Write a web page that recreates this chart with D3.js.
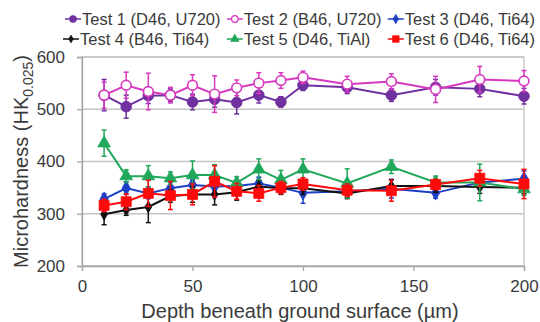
<!DOCTYPE html>
<html>
<head>
<meta charset="utf-8">
<script src="https://cdn.jsdelivr.net/npm/d3@7"></script>
<style>
  body { margin: 0; background: #fff; }
  svg text { font-family: Arial, "Liberation Sans", Helvetica, sans-serif; fill: #3a3a3a; }
</style>
</head>
<body>
<div id="chart"></div>
<script>
// depth beneath surface (µm)
const depths = [10, 20, 30, 40, 50, 60, 70, 80, 90, 100, 120, 140, 160, 180, 200];

// series names
const seriesNames = [
  'Test 1 (D46, U720)', 'Test 2 (B46, U720)', 'Test 3 (D46, Ti64)',
  'Test 4 (B46, Ti64)', 'Test 5 (D46, TiAl)', 'Test 6 (D46, Ti64)'
];

// mean hardness values
const test1 = [527, 505, 526, 527, 514, 519, 513, 527, 514, 546, 542, 527, 542, 539, 525];
const test2 = [527, 546, 534, 527, 546, 529, 541, 550, 555, 561, 548, 553, 538, 557, 554];
const test3 = [328, 349, 339, 349, 355, 352, 353, 358, 350, 340, 343, 348, 340, 360, 367];
const test4 = [299, 307, 313, 334, 337, 337, 341, 352, 349, 349, 339, 353, 353, 351, 350];
const test5 = [435, 372, 372, 368, 374, 374, 359, 385, 365, 385, 358, 390, 360, 360, 347];
const test6 = [316, 323, 339, 335, 337, 362, 343, 339, 350, 357, 345, 344, 356, 368, 357];

// error bar half-widths
const err1 = [30, 22, 15, 12, 15, 15, 22, 15, 10, 10, 12, 12, 15, 15, 15];
const err2 = [25, 25, 35, 15, 20, 35, 15, 20, 15, 12, 15, 15, 25, 25, 20];
const err3 = [10, 12, 10, 12, 10, 12, 10, 12, 10, 20, 12, 18, 10, 12, 15];
const err4 = [20, 10, 30, 12, 15, 20, 15, 12, 12, 12, 10, 12, 12, 12, 12];
const err5 = [25, 12, 20, 12, 27, 20, 12, 20, 18, 20, 28, 13, 12, 35, 12];
const err6 = [12, 15, 25, 27, 20, 30, 15, 15, 12, 12, 12, 20, 10, 15, 28];

const xTicks = [0, 50, 100, 150, 200];
const yTicks = [200, 300, 400, 500, 600];

const width = 540, height = 322;
const margin = { left: 82, right: 16, top: 57, bottom: 56 };
const font = 'Arial, "Liberation Sans", Helvetica, sans-serif';

const svg = d3.select('#chart').append('svg')
  .attr('width', width)
  .attr('height', height);

const x = d3.scaleLinear().domain([0, 200]).range([margin.left, width - margin.right]);
const y = d3.scaleLinear().domain([200, 600]).range([height - margin.bottom, margin.top]);

// gridlines
svg.append('g')
  .selectAll('line')
  .data(yTicks)
  .enter().append('line')
  .attr('x1', x(0)).attr('x2', x(200))
  .attr('y1', d => y(d)).attr('y2', d => y(d))
  .attr('stroke', '#c4c4c4').attr('stroke-width', 1.3);

// plot frame
svg.append('rect')
  .attr('x', x(0)).attr('y', y(600))
  .attr('width', x(200) - x(0)).attr('height', y(200) - y(600))
  .attr('fill', 'none').attr('stroke', '#c4c4c4').attr('stroke-width', 1.3);

// axes
const xAxis = svg.append('g')
  .attr('transform', `translate(0,${y(200)})`)
  .call(d3.axisBottom(x).tickValues(xTicks).tickSize(5).tickPadding(9));
const yAxis = svg.append('g')
  .attr('transform', `translate(${x(0)},0)`)
  .call(d3.axisLeft(y).tickValues(yTicks).tickSize(5).tickPadding(12));
[xAxis, yAxis].forEach(a => {
  a.attr('font-family', font);
  a.select('.domain').attr('stroke', '#a6a6a6').attr('stroke-width', 1.3);
  a.selectAll('.tick line').attr('stroke', '#a6a6a6').attr('stroke-width', 1.3);
  a.selectAll('.tick text').attr('font-size', 17).attr('fill', '#3a3a3a');
});

// axis titles
svg.append('text')
  .attr('x', (x(0) + x(200)) / 2 - 3).attr('y', 318)
  .attr('text-anchor', 'middle').attr('font-size', 20)
  .text('Depth beneath ground surface (\u00b5m)');

const yt = svg.append('text')
  .attr('transform', `translate(28,${(y(200) + y(600)) / 2}) rotate(-90)`)
  .attr('text-anchor', 'middle').attr('font-size', 20);
yt.append('tspan').text('Microhardness (HK');
yt.append('tspan').attr('font-size', 14).attr('dy', 5).text('0.025');
yt.append('tspan').attr('dy', -5).text(')');

// series definitions
const series = [
  { name: seriesNames[0], values: test1, errs: err1, color: '#7030a0', shape: d3.symbolCircle, size: 90, fill: true },
  { name: seriesNames[1], values: test2, errs: err2, color: '#d838c0', shape: d3.symbolCircle, size: 75, fill: false },
  { name: seriesNames[2], values: test3, errs: err3, color: '#1c3fc4', shape: d3.symbolDiamond, size: 60, fill: true },
  { name: seriesNames[3], values: test4, errs: err4, color: '#111111', shape: d3.symbolDiamond, size: 40, fill: true },
  { name: seriesNames[4], values: test5, errs: err5, color: '#1fa75a', shape: d3.symbolTriangle, size: 70, fill: true },
  { name: seriesNames[5], values: test6, errs: err6, color: '#ff0a0a', shape: d3.symbolSquare, size: 100, fill: true }
];

const line = d3.line()
  .x((d, i) => x(depths[i]))
  .y(d => y(d));

series.forEach(s => {
  const g = svg.append('g');
  const pts = s.values.map((v, i) => ({ x: depths[i], v: v, e: s.errs[i] }));

  // error bars
  const eb = g.selectAll('.eb').data(pts).enter().append('g');
  eb.append('line')
    .attr('x1', d => x(d.x)).attr('x2', d => x(d.x))
    .attr('y1', d => y(d.v - d.e)).attr('y2', d => y(d.v + d.e))
    .attr('stroke', s.color).attr('stroke-width', 1.5);
  eb.selectAll('.cap').data(d => [d.v - d.e, d.v + d.e].map(v => ({ x: d.x, v: v })))
    .enter().append('line')
    .attr('x1', d => x(d.x) - 2.5).attr('x2', d => x(d.x) + 2.5)
    .attr('y1', d => y(d.v)).attr('y2', d => y(d.v))
    .attr('stroke', s.color).attr('stroke-width', 1.5);

  // line
  g.append('path')
    .datum(s.values)
    .attr('d', line)
    .attr('fill', 'none')
    .attr('stroke', s.color)
    .attr('stroke-width', 2);

  // markers
  g.selectAll('.m').data(pts).enter().append('path')
    .attr('transform', d => `translate(${x(d.x)},${y(d.v)})`)
    .attr('d', d3.symbol().type(s.shape).size(s.size))
    .attr('fill', s.fill ? s.color : '#fff')
    .attr('stroke', s.color)
    .attr('stroke-width', s.fill ? 0.8 : 1.6);
});

// legend: two rows of three, spread between row start and end
const rowSpans = [[65, 535], [63, 535]];
const rowY = [19, 39];
[0, 1].forEach(r => {
  const items = series.slice(r * 3, r * 3 + 3).map(s => {
    const lg = svg.append('g');
    lg.append('line')
      .attr('x1', 0).attr('x2', 16)
      .attr('y1', 0).attr('y2', 0)
      .attr('stroke', s.color).attr('stroke-width', 1.5);
    lg.append('path')
      .attr('transform', 'translate(8,0)')
      .attr('d', d3.symbol().type(s.shape).size(s.size * 0.45))
      .attr('fill', s.fill ? s.color : '#fff')
      .attr('stroke', s.color)
      .attr('stroke-width', s.fill ? 0.6 : 1.2);
    const t = lg.append('text')
      .attr('x', 17).attr('y', 6)
      .attr('font-size', 16.5)
      .text(s.name);
    return { g: lg, w: 17 + t.node().getComputedTextLength() };
  });
  const total = d3.sum(items, d => d.w);
  const gap = Math.max(2, (rowSpans[r][1] - rowSpans[r][0] - total) / 2);
  let cx = rowSpans[r][0];
  items.forEach(it => {
    it.g.attr('transform', `translate(${cx},${rowY[r]})`);
    cx += it.w + gap;
  });
});
</script>
</body>
</html>
